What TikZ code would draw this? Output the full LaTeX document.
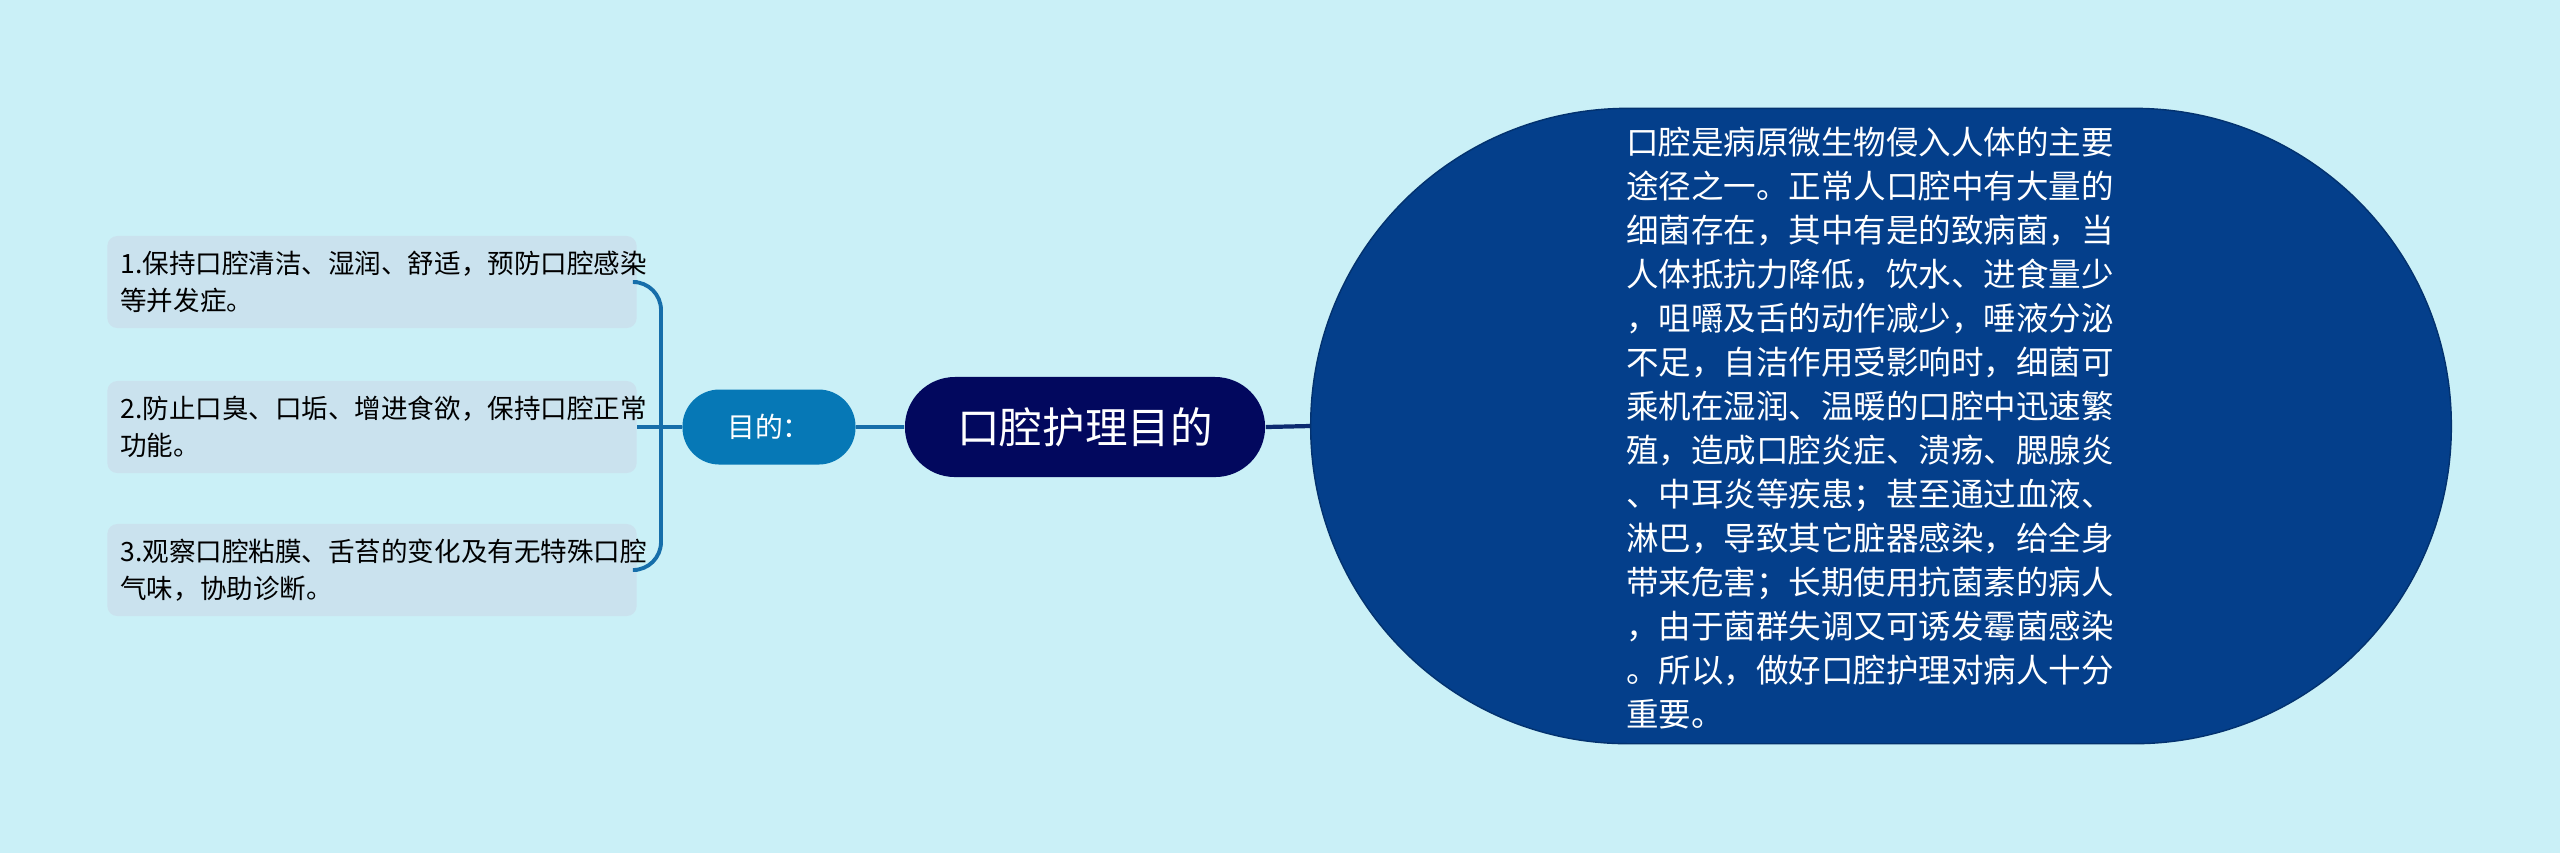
\documentclass[tikz,border=0pt]{standalone}
\usepackage{fontspec}
\setmainfont{Noto Sans CJK SC}
\definecolor{bgc}{RGB}{202,240,247}
\definecolor{leaffill}{RGB}{202,226,238}
\definecolor{linec}{RGB}{22,110,170}
\definecolor{midfill}{RGB}{6,120,182}
\definecolor{rootfill}{RGB}{2,8,94}
\definecolor{bigfill}{RGB}{4,63,139}
\definecolor{rootline}{RGB}{12,42,112}
\tikzset{
  leaf/.style={fill=leaffill, rounded corners=0.1cm, minimum width=5.29cm, minimum height=0.92cm,
    text width=5.03cm, inner xsep=0.13cm, inner ysep=0pt, align=left, text=black,
    font=\fontsize{7.55pt}{10.4pt}\selectfont},
  conn/.style={draw=linec, line width=1.1pt},
  rootconn/.style={draw=rootline, line width=1.2pt},
}
\begin{document}
\begin{tikzpicture}[x=0.01cm,y=-0.01cm]
\fill[bgc] (0,0) rectangle (2560,853);
\useasboundingbox (0,0) rectangle (2560,853);

\node[leaf] (l1) at (372,282) {1.保持口腔清洁、湿润、舒适，预防口腔感染\\等并发症。};
\node[leaf] (l2) at (372,427) {2.防止口臭、口垢、增进食欲，保持口腔正常\\功能。};
\node[leaf] (l3) at (372,570) {3.观察口腔粘膜、舌苔的变化及有无特殊口腔\\气味，协助诊断。};

\node[fill=midfill, text=white, rounded corners=0.37cm, minimum width=1.73cm, minimum height=0.75cm,
  inner sep=0pt, font=\fontsize{7.9pt}{9pt}\selectfont] (mid) at (769,427) {目的：};

\node[fill=rootfill, text=white, rounded corners=0.5cm, minimum width=3.6cm, minimum height=1.0cm,
  inner sep=0pt, font=\fontsize{12.1pt}{14pt}\selectfont] (root) at (1085,427) {口腔护理目的};

\node[fill=bigfill, draw=bigfill!80!black, line width=0.4pt, rounded corners=3.17cm,
  minimum width=11.4cm, minimum height=6.35cm, inner sep=0pt] (big) at (1881,426) {};
\node[text=white, inner sep=0pt, align=left,
  font=\fontsize{9.25pt}{12.5pt}\selectfont] (bigtxt) at (1870,428) {口腔是病原微生物侵入人体的主要\\途径之一。正常人口腔中有大量的\\细菌存在，其中有是的致病菌，当\\人体抵抗力降低，饮水、进食量少\\，咀嚼及舌的动作减少，唾液分泌\\不足，自洁作用受影响时，细菌可\\乘机在湿润、温暖的口腔中迅速繁\\殖，造成口腔炎症、溃疡、腮腺炎\\、中耳炎等疾患；甚至通过血液、\\淋巴，导致其它脏器感染，给全身\\带来危害；长期使用抗菌素的病人\\，由于菌群失调又可诱发霉菌感染\\。所以，做好口腔护理对病人十分\\重要。};

\coordinate (bk) at (661,427);
\draw[conn, rounded corners=0.28cm] (l1.east) -| (bk) |- (l3.east);
\draw[conn] (l2.east) -- (mid.west);
\draw[conn] (mid.east) -- (root.west);
\draw[rootconn] (root.east) -- (big.west);
\end{tikzpicture}
\end{document}
